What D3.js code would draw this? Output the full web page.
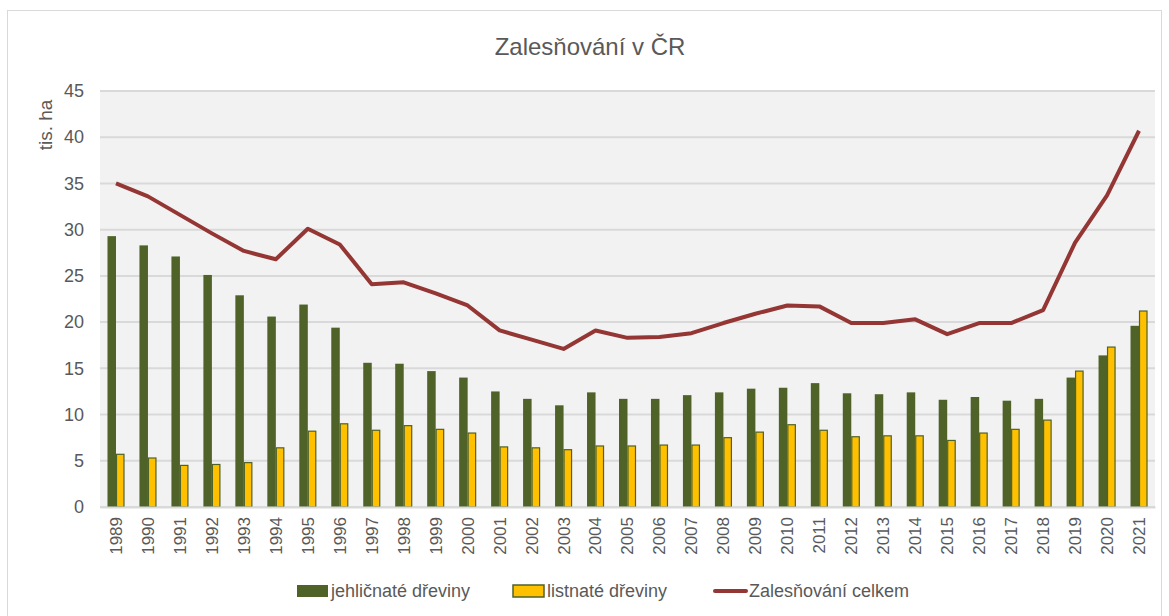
<!DOCTYPE html>
<html>
<head>
<meta charset="utf-8">
<script src="https://cdn.jsdelivr.net/npm/d3@7"></script>
<style>
  body { margin: 0; background: #fff; }
  svg { display: block; font-family: "Liberation Sans", Arial, sans-serif; }
</style>
</head>
<body>
<svg id="chart" width="1169" height="616"></svg>
<script>
const years = ['1989','1990','1991','1992','1993','1994','1995','1996','1997','1998','1999','2000',
  '2001','2002','2003','2004','2005','2006','2007','2008','2009','2010','2011','2012',
  '2013','2014','2015','2016','2017','2018','2019','2020','2021'];

// jehličnaté dřeviny (tis. ha)
const conifers = [29.3, 28.3, 27.1, 25.1, 22.9, 20.6, 21.9, 19.4, 15.6, 15.5, 14.7, 14.0,
  12.5, 11.7, 11.0, 12.4, 11.7, 11.7, 12.1, 12.4, 12.8, 12.9, 13.4, 12.3,
  12.2, 12.4, 11.6, 11.9, 11.5, 11.7, 14.0, 16.4, 19.6];

// listnaté dřeviny (tis. ha)
const broadleaves = [5.7, 5.3, 4.5, 4.6, 4.8, 6.4, 8.2, 9.0, 8.3, 8.8, 8.4, 8.0,
  6.5, 6.4, 6.2, 6.6, 6.6, 6.7, 6.7, 7.5, 8.1, 8.9, 8.3, 7.6,
  7.7, 7.7, 7.2, 8.0, 8.4, 9.4, 14.7, 17.3, 21.2];

// Zalesňování celkem (tis. ha)
const total = [35.0, 33.6, 31.6, 29.6, 27.7, 26.8, 30.1, 28.4, 24.1, 24.3, 23.1, 21.8,
  19.1, 18.1, 17.1, 19.1, 18.3, 18.4, 18.8, 19.9, 20.9, 21.8, 21.7, 19.9,
  19.9, 20.3, 18.7, 19.9, 19.9, 21.3, 28.6, 33.7, 40.7];

const yTicks = [0, 5, 10, 15, 20, 25, 30, 35, 40, 45];

const seriesNames = ['jehličnaté dřeviny', 'listnaté dřeviny', 'Zalesňování celkem'];

const colGreen = '#4f6228', colYellow = '#ffc000', colLine = '#943634', txt = '#595959';

const svg = d3.select('#chart');
const margin = { left: 100, right: 14, top: 91, bottom: 109 };
const W = 1169, H = 616;
const plotW = W - margin.left - margin.right;
const plotH = H - margin.top - margin.bottom;

// outer chart border
svg.append('rect')
  .attr('x', 7.5).attr('y', 10.5)
  .attr('width', 1154).attr('height', 620)
  .attr('fill', '#fff').attr('stroke', '#d9d9d9').attr('stroke-width', 1);

svg.append('text')
  .attr('x', 590).attr('y', 55)
  .attr('text-anchor', 'middle')
  .attr('font-size', 24)
  .attr('fill', txt)
  .text('Zalesňování v ČR');

const g = svg.append('g').attr('transform', `translate(${margin.left},${margin.top})`);

const x = d3.scaleBand().domain(years).range([0, plotW]);
const y = d3.scaleLinear().domain([0, 45]).range([plotH, 0]);

g.append('rect').attr('width', plotW).attr('height', plotH).attr('fill', '#f2f2f2');

// grid
g.selectAll('.grid').data(yTicks).enter().append('line')
  .attr('x1', 0).attr('x2', plotW)
  .attr('y1', d => y(d)).attr('y2', d => y(d))
  .attr('stroke', '#d9d9d9').attr('stroke-width', 2);

// y labels
const yAxis = d3.axisLeft(y).tickValues(yTicks).tickSize(0).tickPadding(16);
g.append('g').call(yAxis)
  .call(s => s.select('.domain').remove())
  .selectAll('text')
  .attr('font-size', 18).attr('fill', txt)
  .attr('font-family', 'inherit');

svg.append('text')
  .attr('transform', 'translate(45,125) rotate(-90)')
  .attr('text-anchor', 'middle')
  .attr('dy', '0.35em')
  .attr('font-size', 19).attr('fill', txt)
  .text('tis. ha');

const barW = 8.5;

g.selectAll('.conif').data(conifers).enter().append('rect')
  .attr('x', (d, i) => x(years[i]) + x.bandwidth() / 2 - barW)
  .attr('y', d => y(d))
  .attr('width', barW)
  .attr('height', d => y(0) - y(d))
  .attr('fill', colGreen);

g.selectAll('.broad').data(broadleaves).enter().append('rect')
  .attr('x', (d, i) => x(years[i]) + x.bandwidth() / 2 + 0.5)
  .attr('y', d => y(d))
  .attr('width', barW - 1)
  .attr('height', d => y(0) - y(d))
  .attr('fill', colYellow)
  .attr('stroke', colGreen).attr('stroke-width', 1.2);

// x axis
const xAxis = d3.axisBottom(x).tickSize(0).tickPadding(0);
const xg = g.append('g').attr('transform', `translate(0,${plotH})`).call(xAxis);
xg.select('.domain').attr('stroke', '#d9d9d9').attr('stroke-width', 2);
xg.selectAll('text')
  .attr('font-size', 17).attr('fill', txt)
  .attr('font-family', 'inherit')
  .attr('transform', 'rotate(-90)')
  .attr('text-anchor', 'end')
  .attr('dy', '0.35em')
  .attr('x', -10).attr('y', 0);

// total line
const line = d3.line()
  .x((d, i) => x(years[i]) + x.bandwidth() / 2)
  .y(d => y(d));
g.append('path').datum(total)
  .attr('d', line)
  .attr('fill', 'none')
  .attr('stroke', colLine)
  .attr('stroke-width', 4)
  .attr('stroke-linejoin', 'round');

// legend
const lg = svg.append('g').attr('transform', 'translate(0,591)');
const items = [
  { x: 297, type: 'bar', fill: colGreen, stroke: 'none' },
  { x: 513, type: 'bar', fill: colYellow, stroke: colGreen },
  { x: 715, type: 'line' },
];
items.forEach((it, i) => {
  if (it.type === 'bar') {
    lg.append('rect').attr('x', it.x).attr('y', -6).attr('width', 31).attr('height', 12)
      .attr('fill', it.fill).attr('stroke', it.stroke).attr('stroke-width', 1.5);
  } else {
    lg.append('line').attr('x1', it.x).attr('x2', it.x + 31).attr('y1', 0).attr('y2', 0)
      .attr('stroke', colLine).attr('stroke-width', 4).attr('stroke-linecap', 'round');
  }
  lg.append('text').attr('x', it.x + 34).attr('y', 0).attr('dy', '0.35em')
    .attr('font-size', 18).attr('fill', txt)
    .text(seriesNames[i]);
});
</script>
</body>
</html>
